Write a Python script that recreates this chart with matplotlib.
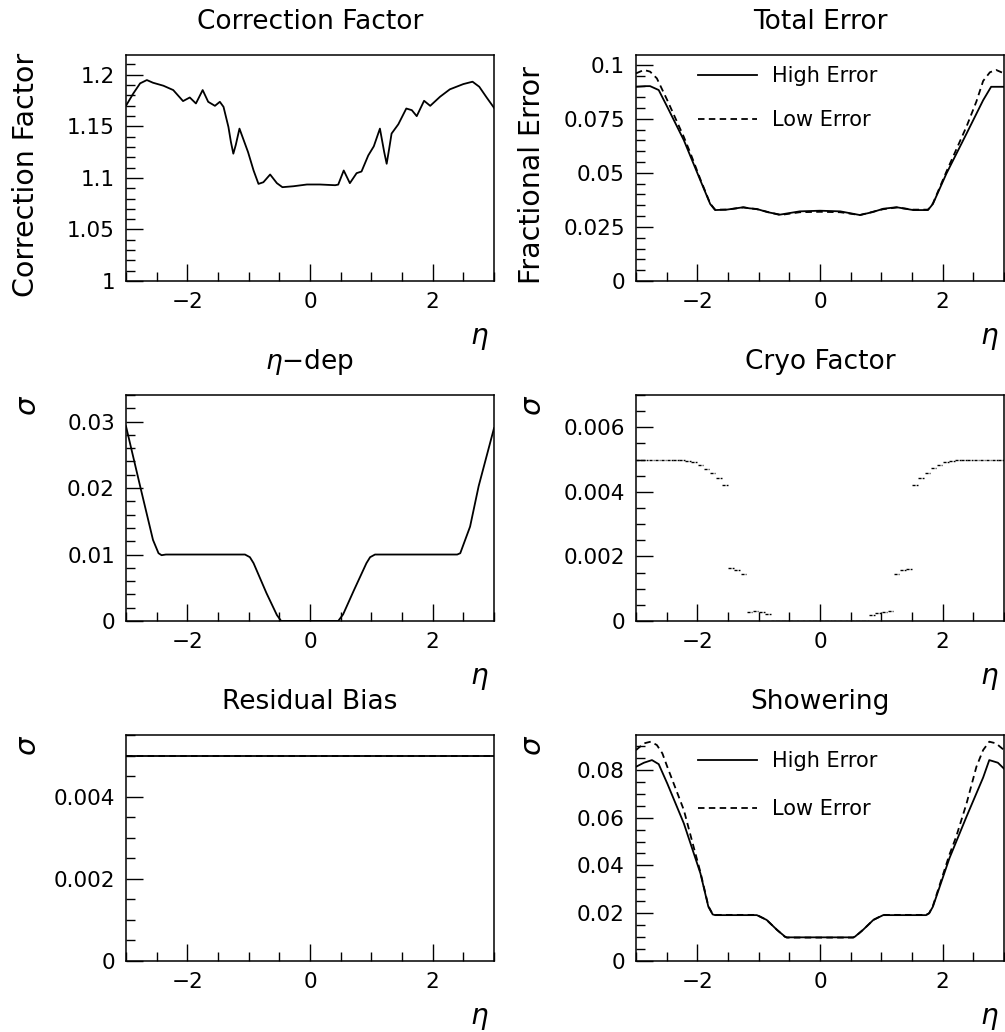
import matplotlib
matplotlib.use("Agg")
import matplotlib.pyplot as plt
from matplotlib.ticker import MultipleLocator, FuncFormatter
import numpy as np

plt.rcParams['font.family'] = ['DejaVu Sans']
plt.rcParams['mathtext.fontset'] = 'dejavusans'

# ---------------- data ----------------
corr_eta = [-3.0, -2.88, -2.77, -2.66, -2.56, -2.39, -2.23, -2.07, -1.96, -1.86, -1.75, -1.66,
            -1.55, -1.47, -1.41, -1.33, -1.29, -1.25, -1.21, -1.15, -1.01, -0.92, -0.84, -0.76,
            -0.65, -0.54, -0.45, -0.27, -0.05, 0.16, 0.41, 0.46, 0.55, 0.65, 0.76, 0.84,
            0.95, 1.04, 1.14, 1.21, 1.25, 1.29, 1.33, 1.44, 1.57, 1.66, 1.74, 1.86, 1.96,
            2.12, 2.28, 2.50, 2.65, 2.76, 2.88, 3.0]
corr_val = [1.170, 1.182, 1.1917, 1.1949, 1.1923, 1.1894, 1.1852, 1.1745, 1.178, 1.1722, 1.1852, 1.1738,
            1.1699, 1.1738, 1.1689, 1.1494, 1.135, 1.1235, 1.132, 1.1478, 1.125, 1.1072, 1.0942, 1.0958,
            1.1033, 1.0949, 1.091, 1.0919, 1.0936, 1.0936, 1.0929, 1.0935, 1.1072, 1.0949, 1.1046, 1.1062,
            1.1218, 1.1306, 1.1478, 1.125, 1.1137, 1.128, 1.143, 1.152, 1.1673, 1.1657, 1.1599, 1.1748, 1.1699,
            1.1787, 1.1859, 1.191, 1.1933, 1.1884, 1.178, 1.168]

tot_hi_eta = [-3.0, -2.85, -2.77, -2.63, -2.49, -2.22, -1.95, -1.79, -1.71, -1.52, -1.25, -1.15, -1.03,
              -0.85, -0.65, -0.33, 0.0, 0.33, 0.65, 0.85, 1.03, 1.15, 1.25, 1.52, 1.76, 1.84, 2.06,
              2.39, 2.66, 2.79, 3.0]
tot_hi_val = [0.0898, 0.0901, 0.0901, 0.0883, 0.0805, 0.0651, 0.0465, 0.0356, 0.0328, 0.0330, 0.0341, 0.0336, 0.0333,
              0.0318, 0.0307, 0.0322, 0.0325, 0.0322, 0.0305, 0.0318, 0.0334, 0.0338, 0.0341, 0.0328, 0.0328, 0.0356, 0.0496,
              0.0682, 0.0836, 0.0898, 0.0898]
tot_lo_eta = [-3.0, -2.87, -2.77, -2.66, -2.49, -2.22, -2.11, -1.95, -1.79, -1.71, -1.52, -1.25, -1.03,
              -0.65, -0.33, 0.0, 0.33, 0.65, 1.03, 1.25, 1.52, 1.76, 1.84, 2.06, 2.39,
              2.55, 2.66, 2.77, 2.87, 3.0]
tot_lo_val = [0.0960, 0.0976, 0.0968, 0.0937, 0.0836, 0.0666, 0.0589, 0.0470, 0.0358, 0.0330, 0.0330, 0.0340, 0.0332,
              0.0305, 0.0318, 0.0320, 0.0318, 0.0305, 0.0332, 0.0340, 0.0330, 0.0330, 0.0358, 0.0505, 0.0715,
              0.0830, 0.0925, 0.0965, 0.0976, 0.0960]

etadep_eta = [-3.0, -2.77, -2.56, -2.47, -2.42, -2.35, -1.06, -0.98, -0.92, -0.71, -0.54, -0.47,
              0.46, 0.54, 0.71, 0.92, 0.98, 1.06, 2.40, 2.45, 2.61, 2.75, 3.0]
etadep_val = [0.0293, 0.0203, 0.0122, 0.0102, 0.0099, 0.0100, 0.0100, 0.0096, 0.0087, 0.0042, 0.0009, 0.0,
              0.0, 0.0010, 0.0045, 0.0087, 0.0096, 0.0100, 0.0100, 0.0102, 0.0142, 0.0203, 0.0290]

cryo_centers = [round(-2.95 + 0.1 * i, 2) for i in range(60)]
cryo_val = ([0.005] * 8 +
            [0.00497, 0.00491, 0.00484, 0.00472, 0.00459, 0.00442, 0.00420,
             0.00164, 0.00158, 0.00145,
             0.00029, 0.00031, 0.00028, 0.00023] +
            [0.0] * 16 +
            [0.00020, 0.00026, 0.00029, 0.00030,
             0.00145, 0.00157, 0.00162,
             0.00421, 0.00443, 0.00459, 0.00474, 0.00484, 0.00492, 0.00497] +
            [0.005] * 8)
cryo_binwidth = 0.1

resid_eta = [-3.0, 3.0]
resid_hi = [0.005, 0.005]
resid_lo = [0.005, 0.005]

show_hi_eta = [-3.0, -2.87, -2.74, -2.63, -2.49, -2.22, -1.95, -1.82, -1.75, -1.71, -1.03, -0.87,
               -0.70, -0.57, -0.54, 0.54, 0.57, 0.70, 0.87, 1.03, 1.73, 1.78, 1.84, 2.11,
               2.39, 2.66, 2.76, 2.90, 3.0]
show_hi_val = [0.0813, 0.0830, 0.0841, 0.0824, 0.0743, 0.0576, 0.0367, 0.0227, 0.0195, 0.0192, 0.0192, 0.0172,
               0.0130, 0.0102, 0.0099, 0.0099, 0.0102, 0.0130, 0.0172, 0.0192, 0.0192, 0.0200, 0.0227, 0.0430,
               0.0605, 0.0768, 0.0841, 0.0830, 0.0805]
show_lo_eta = [-3.0, -2.87, -2.76, -2.66, -2.57, -2.49, -2.22, -2.09, -1.95, -1.82, -1.75, -1.71, -1.03, -0.87,
               -0.70, -0.57, -0.54, 0.54, 0.57, 0.70, 0.87, 1.03, 1.73, 1.78, 1.84, 2.11,
               2.22, 2.39, 2.55, 2.66, 2.76, 2.87, 3.0]
show_lo_val = [0.0883, 0.0911, 0.0918, 0.0904, 0.0869, 0.0813, 0.0632, 0.0506, 0.0372, 0.0230, 0.0196, 0.0193, 0.0193, 0.0172,
               0.0130, 0.0101, 0.0098, 0.0098, 0.0101, 0.0130, 0.0172, 0.0193, 0.0193, 0.0200, 0.0230, 0.0445,
               0.0520, 0.0660, 0.0813, 0.0883, 0.0918, 0.0911, 0.0883]

titles = ['Correction Factor', 'Total Error', r'$\eta$$-$dep', 'Cryo Factor', 'Residual Bias', 'Showering']
legend_labels = ['High Error', 'Low Error']

# ---------------- layout ----------------
W, H = 1005, 1032
fig = plt.figure(figsize=(W / 100, H / 100), dpi=100)

cols = [126, 636]
rows = [55, 395, 735]
aw, ah = 368, 226

def make_ax(r, c):
    x0 = cols[c] / W
    y0 = 1 - (rows[r] + ah) / H
    return fig.add_axes([x0, y0, aw / W, ah / H])

fmt = FuncFormatter(lambda v, p: ('%g' % v).replace('-', '\u2212') if abs(v) > 1e-12 else '0')

LW = 1.3
DASH = (0, (3.6, 2.4))
TFS = 19
TICKFS = 15.5

def style(ax, title, ylim, ymaj, ymin, ylabel, ylab_x, centered=False):
    ax.set_xlim(-3, 3)
    ax.set_ylim(*ylim)
    ax.xaxis.set_major_locator(MultipleLocator(2))
    ax.xaxis.set_minor_locator(MultipleLocator(0.5))
    ax.yaxis.set_major_locator(MultipleLocator(ymaj))
    ax.yaxis.set_minor_locator(MultipleLocator(ymin))
    ax.xaxis.set_major_formatter(fmt)
    ax.yaxis.set_major_formatter(fmt)
    ax.tick_params(which='both', direction='in', top=False, right=False, labelsize=TICKFS, width=1.0)
    ax.tick_params(which='major', length=12.2)
    ax.tick_params(which='minor', length=6.2)
    ax.tick_params(axis='x', which='major', pad=8)
    ax.tick_params(axis='y', which='major', pad=8)
    for s in ax.spines.values():
        s.set_linewidth(1.1)
    ax.set_title(title, fontsize=TFS, y=1 + 33 / ah, va='center', pad=0)
    ax.set_xlabel(r'$\eta$', fontsize=TFS + 1, loc='right')
    ax.xaxis.set_label_coords(0.985, -57 / ah)
    ax.xaxis.label.set_verticalalignment('center')
    if centered:
        ax.set_ylabel(ylabel, fontsize=20.5)
        ax.yaxis.set_label_coords(ylab_x, 0.47)
    else:
        ax.set_ylabel(ylabel, fontsize=TFS + 2, loc='top')
        ax.yaxis.set_label_coords(ylab_x, 1.0)
    ax.yaxis.label.set_verticalalignment('center')

LEGFS = 15

# Correction Factor
ax = make_ax(0, 0)
ax.plot(corr_eta, corr_val, color='black', lw=LW)
style(ax, titles[0], (1.0, 1.2192), 0.05, 0.01, 'Correction Factor', (26 - 126) / aw, centered=True)

# Total Error
ax = make_ax(0, 1)
h1, = ax.plot(tot_hi_eta, tot_hi_val, color='black', lw=LW, label=legend_labels[0])
h2, = ax.plot(tot_lo_eta, tot_lo_val, color='black', lw=LW, ls=DASH, label=legend_labels[1])
style(ax, titles[1], (0.0, 0.1045), 0.025, 0.005, 'Fractional Error', (532 - 636) / aw, centered=True)
ax.legend(handles=[h1, h2], loc='upper left', bbox_to_anchor=(0.168, 0.95), frameon=False,
          fontsize=LEGFS, handlelength=2.84, handletextpad=0.71, labelspacing=1.16,
          borderpad=0, borderaxespad=0)

# eta-dep
ax = make_ax(1, 0)
ax.plot(etadep_eta, etadep_val, color='black', lw=LW)
style(ax, titles[2], (0.0, 0.034), 0.01, 0.002, r'$\sigma$', (28 - 126) / aw)

# Cryo Factor
ax = make_ax(1, 1)
cc = np.array(cryo_centers)
ax.hlines(cryo_val, cc - cryo_binwidth / 2 + 0.004, cc + cryo_binwidth / 2 - 0.004,
          colors='black', lw=1.0, linestyles=(0, (2.2, 0.8)))
style(ax, titles[3], (0.0, 0.007), 0.002, 0.0005, r'$\sigma$', (533 - 636) / aw)

# Residual Bias
ax = make_ax(2, 0)
ax.plot(resid_eta, resid_hi, color='black', lw=LW)
ax.plot(resid_eta, resid_lo, color='black', lw=LW, ls=DASH)
style(ax, titles[4], (0.0, 0.0055), 0.002, 0.0005, r'$\sigma$', (28 - 126) / aw)

# Showering
ax = make_ax(2, 1)
g1, = ax.plot(show_hi_eta, show_hi_val, color='black', lw=LW, label=legend_labels[0])
g2, = ax.plot(show_lo_eta, show_lo_val, color='black', lw=LW, ls=DASH, label=legend_labels[1])
style(ax, titles[5], (0.0, 0.0946), 0.02, 0.005, r'$\sigma$', (533 - 636) / aw)
ax.legend(handles=[g1, g2], loc='upper left', bbox_to_anchor=(0.168, 0.93), frameon=False,
          fontsize=LEGFS, handlelength=2.84, handletextpad=0.71, labelspacing=1.35,
          borderpad=0, borderaxespad=0)

fig.savefig('out.png', dpi=100)
